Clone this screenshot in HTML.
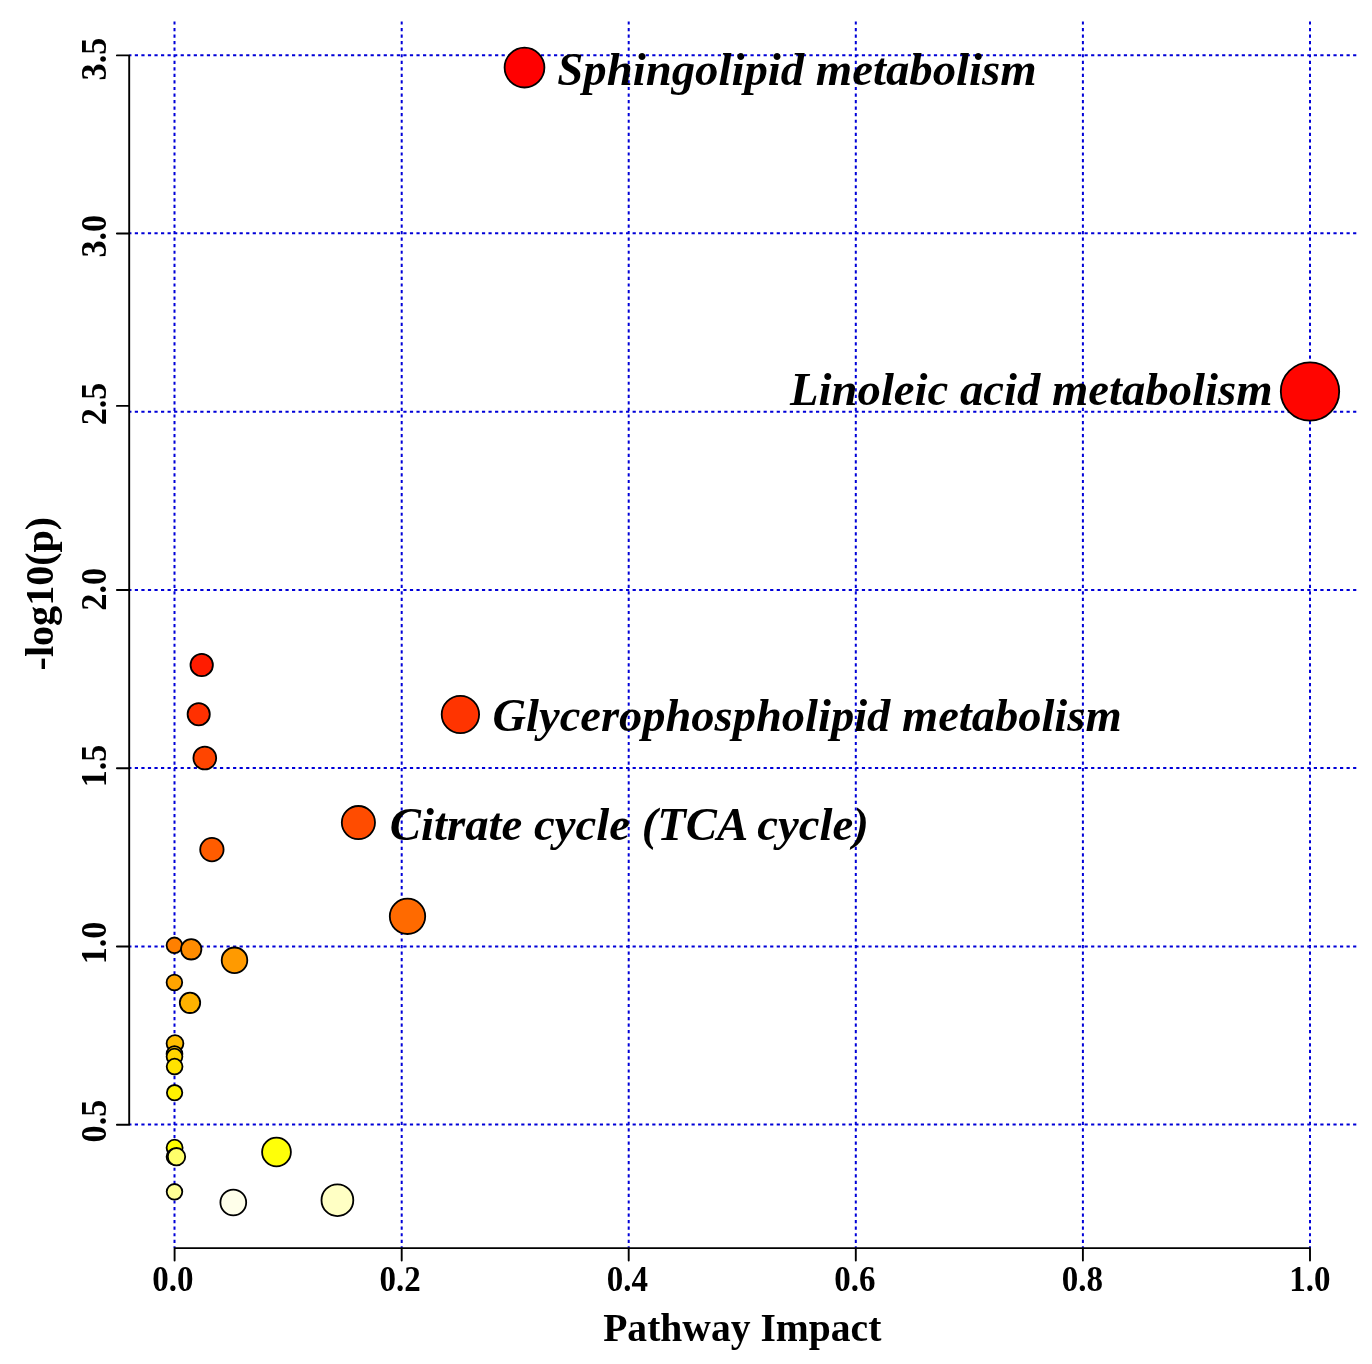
<!DOCTYPE html>
<html><head><meta charset="utf-8"><title>Pathway Impact</title>
<style>
html,body{margin:0;padding:0;background:#fff;overflow:hidden;}
svg{display:block;will-change:transform;}
text{font-family:"Liberation Serif", serif;font-weight:bold;fill:#000;}
.lbl{font-style:italic;font-size:46.7px;}
.ax{font-size:39.6px;}
.tk{font-size:34.2px;}
</style></head><body>
<svg width="1372" height="1364" viewBox="0 0 1372 1364">
<rect x="0" y="0" width="1372" height="1364" fill="#fff"/>
<path d="M174.5 21.4V1248.0M401.7 21.4V1248.0M628.7 21.4V1248.0M855.8 21.4V1248.0M1082.9 21.4V1248.0M1310.0 21.4V1248.0M1356.3 55.2H129.3M1356.3 233.3H129.3M1356.3 411.8H129.3M1356.3 590.0H129.3M1356.3 768.0H129.3M1356.3 946.4H129.3M1356.3 1124.5H129.3" stroke="#0000D8" stroke-width="2.0" stroke-dasharray="3.2 3.35" fill="none"/>
<circle cx="524.5" cy="67.6" r="19.90" fill="#FF0000" stroke="#000" stroke-width="1.8"/>
<circle cx="1310.0" cy="391.5" r="29.20" fill="#FF0500" stroke="#000" stroke-width="1.8"/>
<circle cx="201.7" cy="665.0" r="11.20" fill="#FF1C00" stroke="#000" stroke-width="1.8"/>
<circle cx="460.4" cy="714.5" r="18.70" fill="#FF3400" stroke="#000" stroke-width="1.8"/>
<circle cx="198.7" cy="714.3" r="11.10" fill="#FF3000" stroke="#000" stroke-width="1.8"/>
<circle cx="204.8" cy="758.0" r="11.40" fill="#FF4500" stroke="#000" stroke-width="1.8"/>
<circle cx="358.4" cy="822.6" r="16.60" fill="#FF4C00" stroke="#000" stroke-width="1.8"/>
<circle cx="211.9" cy="849.6" r="11.70" fill="#FF5C00" stroke="#000" stroke-width="1.8"/>
<circle cx="407.5" cy="916.3" r="17.70" fill="#FF6A00" stroke="#000" stroke-width="1.8"/>
<circle cx="174.4" cy="945.3" r="7.80" fill="#FF8000" stroke="#000" stroke-width="1.8"/>
<circle cx="191.2" cy="949.3" r="10.20" fill="#FF8C00" stroke="#000" stroke-width="1.8"/>
<circle cx="234.5" cy="960.3" r="12.80" fill="#FF9A00" stroke="#000" stroke-width="1.8"/>
<circle cx="174.4" cy="982.5" r="7.80" fill="#FFA400" stroke="#000" stroke-width="1.8"/>
<circle cx="190.0" cy="1002.8" r="10.20" fill="#FFB200" stroke="#000" stroke-width="1.8"/>
<circle cx="175.0" cy="1043.6" r="8.40" fill="#FFBE00" stroke="#000" stroke-width="1.8"/>
<circle cx="174.5" cy="1054.0" r="7.90" fill="#FFCA00" stroke="#000" stroke-width="1.8"/>
<circle cx="174.5" cy="1056.6" r="7.90" fill="#FFD400" stroke="#000" stroke-width="1.8"/>
<circle cx="174.6" cy="1066.6" r="7.90" fill="#FFE200" stroke="#000" stroke-width="1.8"/>
<circle cx="174.6" cy="1092.7" r="7.70" fill="#FFF200" stroke="#000" stroke-width="1.8"/>
<circle cx="174.6" cy="1147.7" r="8.00" fill="#FFFF00" stroke="#000" stroke-width="1.8"/>
<circle cx="276.5" cy="1152.0" r="14.40" fill="#FFFF08" stroke="#000" stroke-width="1.8"/>
<circle cx="174.6" cy="1156.7" r="8.00" fill="#FFFF40" stroke="#000" stroke-width="1.8"/>
<circle cx="176.5" cy="1156.7" r="8.70" fill="#FFFF6A" stroke="#000" stroke-width="1.8"/>
<circle cx="174.5" cy="1191.8" r="7.80" fill="#FFFF95" stroke="#000" stroke-width="1.8"/>
<circle cx="337.4" cy="1200.2" r="15.90" fill="#FFFFC4" stroke="#000" stroke-width="1.8"/>
<circle cx="233.3" cy="1202.5" r="12.90" fill="#FFFFEA" stroke="#000" stroke-width="1.8"/>
<text class="lbl" x="557.3" y="85.0" style="font-size:46.75px">Sphingolipid metabolism</text>
<text class="lbl" x="790.1" y="405.1" style="font-size:46.7px">Linoleic acid metabolism</text>
<text class="lbl" x="492.5" y="731.1" style="font-size:46.5px">Glycerophospholipid metabolism</text>
<text class="lbl" x="389.8" y="840.1" style="font-size:46.75px">Citrate cycle (TCA cycle)</text>
<path d="M129.2 55.4V1124.7M174.6 1248.1H1310.0M116.9 55.4H129.2M116.9 233.5H129.2M116.9 405.9H129.2M116.9 590.0H129.2M116.9 768.2H129.2M116.9 946.5H129.2M116.9 1124.7H129.2M174.6 1248.1V1260.5M401.7 1248.1V1260.5M628.7 1248.1V1260.5M855.8 1248.1V1260.5M1082.9 1248.1V1260.5M1310.0 1248.1V1260.5" stroke="#000" stroke-width="1.9" fill="none" stroke-linecap="round"/>
<text class="tk" text-anchor="middle" transform="translate(172.95 1290.6) scale(0.965 1.06)">0.0</text>
<text class="tk" text-anchor="middle" transform="translate(400.1 1290.6) scale(0.965 1.06)">0.2</text>
<text class="tk" text-anchor="middle" transform="translate(627.3 1290.6) scale(0.965 1.06)">0.4</text>
<text class="tk" text-anchor="middle" transform="translate(854.8 1290.6) scale(0.965 1.06)">0.6</text>
<text class="tk" text-anchor="middle" transform="translate(1082.3 1290.6) scale(0.965 1.06)">0.8</text>
<text class="tk" text-anchor="middle" transform="translate(1309.75 1290.6) scale(0.965 1.06)">1.0</text>
<text class="tk" text-anchor="middle" transform="translate(106.2 59.05) rotate(-90) scale(1 1.025)">3.5</text>
<text class="tk" text-anchor="middle" transform="translate(106.2 236.15) rotate(-90) scale(1 1.025)">3.0</text>
<text class="tk" text-anchor="middle" transform="translate(106.2 403.95) rotate(-90) scale(1 1.025)">2.5</text>
<text class="tk" text-anchor="middle" transform="translate(106.2 589.3) rotate(-90) scale(1 1.025)">2.0</text>
<text class="tk" text-anchor="middle" transform="translate(106.2 765.9) rotate(-90) scale(1 1.025)">1.5</text>
<text class="tk" text-anchor="middle" transform="translate(106.2 943.0) rotate(-90) scale(1 1.025)">1.0</text>
<text class="tk" text-anchor="middle" transform="translate(106.2 1121.05) rotate(-90) scale(1 1.025)">0.5</text>
<text class="ax" x="603.2" y="1341">Pathway Impact</text>
<text class="ax" style="font-size:40.1px" transform="translate(53.2 670.4) rotate(-90)">-log10(p)</text>
</svg></body></html>
